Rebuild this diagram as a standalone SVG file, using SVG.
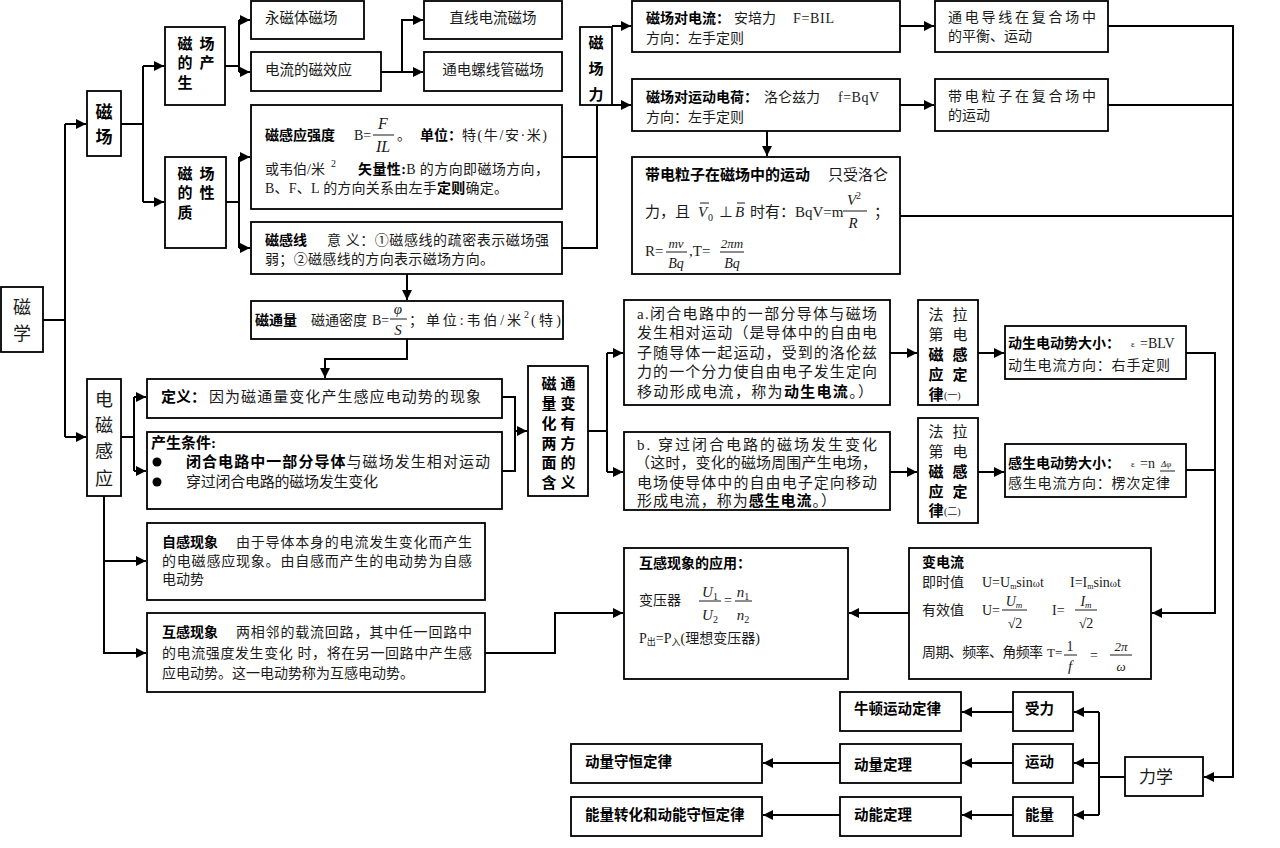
<svg xmlns="http://www.w3.org/2000/svg" width="1280" height="848" viewBox="0 0 1280 848">
<defs>
<marker id="ah" markerUnits="userSpaceOnUse" markerWidth="11" markerHeight="10" refX="10" refY="5" orient="auto">
<path d="M0,0 L10,5 L0,10 z" fill="#000"/>
</marker>
<style>
.bx{fill:#fff;stroke:#000;stroke-width:1.8}
.t{font-family:"Liberation Serif","Noto Sans CJK SC",serif;font-size:14px;fill:#1a1a1a}
.s15{font-size:15px}
.s18{font-size:18px}
.bd{font-weight:bold;fill:#000}
.m{font-family:"Liberation Serif",serif;font-style:italic;font-size:15px;fill:#1a1a1a}
.mc{text-anchor:middle}
.fl{stroke:#1a1a1a;stroke-width:1}
.cn path{fill:none;stroke:#000;stroke-width:2}
.cn path.a{marker-end:url(#ah)}
</style>
</defs>
<rect width="1280" height="848" fill="#fff"/>

<g class="cn" id="connectors">
<path d="M43,320 H65 M65,124 V437"/>
<path class="a" d="M65,124 H86"/>
<path class="a" d="M65,437 H86"/>
<path d="M121,124 H143 M143,66 V202"/>
<path class="a" d="M143,66 H164"/>
<path class="a" d="M143,202 H164"/>
<path d="M225,66 H239 M239,20 V72"/>
<path class="a" d="M239,20 H250"/>
<path class="a" d="M239,72 H250"/>
<path class="a" d="M381,72 H423"/>
<path class="a" d="M402,72 V20 H423"/>
<path d="M226,202 H239 M239,157 V248"/>
<path class="a" d="M239,157 H250"/>
<path class="a" d="M239,248 H250"/>
<path d="M562,157 H597 M562,248 H597 V105"/>
<path class="a" d="M612,26 H631"/>
<path class="a" d="M597,105 H631"/>
<path class="a" d="M900,26 H934"/>
<path class="a" d="M900,105 H934"/>
<path class="a" d="M767,131 V156"/>
<path class="a" d="M1108,26 H1233 V777 H1204"/>
<path d="M1108,105 H1233 M900,216 H1233"/>
<path class="a" d="M407,274 V300"/>
<path class="a" d="M407,339 V359 H325 V378"/>
<path d="M121,437 H134 M134,397 V471"/>
<path class="a" d="M134,397 H146"/>
<path class="a" d="M134,471 H146"/>
<path d="M502,397 H515 V471 H502"/>
<path class="a" d="M515,431 H527"/>
<path d="M588,431 H607 M607,353 V472"/>
<path class="a" d="M607,353 H623"/>
<path class="a" d="M607,472 H623"/>
<path class="a" d="M890,353 H917"/>
<path class="a" d="M978,353 H1004"/>
<path class="a" d="M890,472 H917"/>
<path class="a" d="M978,472 H1004"/>
<path class="a" d="M1186,353 H1215 V613 H1152"/>
<path d="M1186,470 H1215"/>
<path class="a" d="M909,613 H849"/>
<path class="a" d="M104,496 V653 H146"/>
<path class="a" d="M104,561 H146"/>
<path class="a" d="M485,653 H555 V613 H623"/>
<path d="M1125,777 H1099 M1099,712 V815"/>
<path class="a" d="M1099,712 H1074"/>
<path class="a" d="M1099,763 H1074"/>
<path class="a" d="M1099,815 H1074"/>
<path class="a" d="M1013,712 H962"/>
<path class="a" d="M1013,763 H962"/>
<path class="a" d="M840,763 H763"/>
<path class="a" d="M1013,815 H962"/>
<path class="a" d="M840,815 H763"/>
</g>

<g id="n-cixue"><rect class="bx" x="1" y="287" width="42" height="65"/>
<text class="t s18 mc" x="22" y="314">磁</text><text class="t s18 mc" x="22" y="340">学</text></g>

<g id="n-cichang"><rect class="bx" x="87" y="91" width="34" height="65"/>
<text class="t bd mc" style="font-size:17px" x="104" y="118">磁</text><text class="t bd mc" style="font-size:17px" x="104" y="143">场</text></g>

<g id="n-chansheng"><rect class="bx" x="165" y="27" width="60" height="78"/>
<text class="t s15 bd mc" x="185" y="49">磁</text><text class="t s15 bd mc" x="207" y="49">场</text>
<text class="t s15 bd mc" x="185" y="68">的</text><text class="t s15 bd mc" x="207" y="68">产</text>
<text class="t s15 bd mc" x="185" y="88">生</text></g>

<g id="n-xingzhi"><rect class="bx" x="165" y="157" width="61" height="91"/>
<text class="t s15 bd mc" x="185" y="179">磁</text><text class="t s15 bd mc" x="207" y="179">场</text>
<text class="t s15 bd mc" x="185" y="198">的</text><text class="t s15 bd mc" x="207" y="198">性</text>
<text class="t s15 bd mc" x="185" y="218">质</text></g>

<g id="n-yongci"><rect class="bx" x="251" y="1" width="113" height="38"/>
<text class="t" style="font-size:14.5px" x="265" y="23">永磁体磁场</text></g>
<g id="n-dianliu"><rect class="bx" x="251" y="52" width="130" height="39"/>
<text class="t" style="font-size:14.5px" x="265" y="75">电流的磁效应</text></g>
<g id="n-zhixian"><rect class="bx" x="424" y="1" width="138" height="38"/>
<text class="t mc" style="font-size:14.5px" x="493" y="23">直线电流磁场</text></g>
<g id="n-luoxian"><rect class="bx" x="424" y="52" width="138" height="39"/>
<text class="t mc" style="font-size:14.5px" x="493" y="75">通电螺线管磁场</text></g>

<g id="n-qiangdu"><rect class="bx" x="251" y="105" width="311" height="104"/>
<text class="t bd" x="265" y="140">磁感应强度</text>
<text class="t" x="354" y="140">B=</text>
<text class="m mc" style="font-size:16px" x="383" y="129">F</text>
<line class="fl" x1="373" y1="135" x2="394" y2="135"/>
<text class="m mc" style="font-size:16px" x="383" y="152">IL</text>
<text class="t" x="397" y="140">。</text>
<text class="t bd" x="420" y="140">单位：</text>
<text class="t" x="462" y="140" textLength="85" lengthAdjust="spacing">特(牛/安·米)</text>
<text class="t" x="265" y="174">或韦伯/米</text>
<text class="t" style="font-size:10px" x="331" y="167">2</text>
<text class="t" x="358" y="174" textLength="191" lengthAdjust="spacing"><tspan class="bd">矢量性:</tspan>B 的方向即磁场方向，</text>
<text class="t" x="265" y="193" textLength="243" lengthAdjust="spacing">B、F、L 的方向关系由左手<tspan class="bd">定则</tspan>确定。</text></g>

<g id="n-cigan"><rect class="bx" x="251" y="222" width="311" height="52"/>
<text class="t bd" x="265" y="245">磁感线</text>
<text class="t" x="327" y="245" textLength="222" lengthAdjust="spacing">意 义：①磁感线的疏密表示磁场强</text>
<text class="t" x="265" y="264" textLength="229" lengthAdjust="spacing">弱；②磁感线的方向表示磁场方向。</text></g>

<g id="n-citong"><rect class="bx" x="251" y="301" width="312" height="38"/>
<text class="t bd" x="255" y="325">磁通量</text>
<text class="t" x="311" y="325">磁通密度</text>
<text class="t" x="372" y="325">B=</text>
<text class="m mc" x="398" y="314">φ</text>
<line class="fl" x1="390" y1="319" x2="407" y2="319"/>
<text class="m mc" x="398" y="335">S</text>
<text class="t" x="409" y="325" textLength="112" lengthAdjust="spacing">；单位:韦伯/米</text>
<text class="t" style="font-size:10px" x="524" y="318">2</text>
<text class="t" x="531" y="325" textLength="30" lengthAdjust="spacing">(特)</text></g>

<g id="n-cichangli"><rect class="bx" x="580" y="27" width="32" height="78"/>
<text class="t s15 bd mc" x="596" y="48">磁</text><text class="t s15 bd mc" x="596" y="74">场</text><text class="t s15 bd mc" x="596" y="100">力</text></g>

<g id="n-anpeili"><rect class="bx" x="632" y="1" width="268" height="51"/>
<text class="t bd" x="646" y="23">磁场对电流：</text>
<text class="t" x="734" y="23">安培力</text>
<text class="t" x="793" y="23" textLength="41" lengthAdjust="spacing">F=BIL</text>
<text class="t" x="646" y="43">方向：左手定则</text></g>

<g id="n-luolunzi"><rect class="bx" x="632" y="79" width="268" height="52"/>
<text class="t bd" x="646" y="102">磁场对运动电荷：</text>
<text class="t" x="764" y="102">洛仑兹力</text>
<text class="t" x="838" y="102" textLength="41" lengthAdjust="spacing">f=BqV</text>
<text class="t" x="646" y="122">方向：左手定则</text></g>

<g id="n-fuhe1"><rect class="bx" x="935" y="1" width="173" height="51"/>
<text class="t" x="948" y="22" textLength="148" lengthAdjust="spacing">通电导线在复合场中</text>
<text class="t" x="948" y="41">的平衡、运动</text></g>

<g id="n-fuhe2"><rect class="bx" x="935" y="79" width="173" height="52"/>
<text class="t" x="948" y="101" textLength="148" lengthAdjust="spacing">带电粒子在复合场中</text>
<text class="t" x="948" y="120">的运动</text></g>

<g id="n-lizi"><rect class="bx" x="632" y="157" width="268" height="117"/>
<text class="t s15 bd" x="645" y="180">带电粒子在磁场中的运动</text>
<text class="t s15" x="828" y="180">只受洛仑</text>
<text class="t s15" x="645" y="217">力，且</text>
<text class="m" x="698" y="217">V</text>
<line class="fl" x1="700" y1="203" x2="709" y2="203"/>
<text class="t" style="font-size:10px" x="708" y="221">0</text>
<text class="t" x="719" y="217">⊥</text>
<text class="m" x="735" y="217">B</text>
<line class="fl" x1="737" y1="203" x2="745" y2="203"/>
<text class="t s15" x="750" y="217">时有：</text>
<text class="t s15" x="795" y="217">BqV=m</text>
<text class="m mc" x="854" y="205">V<tspan style="font-size:10px;font-style:normal" dy="-6">2</tspan></text>
<line class="fl" x1="843" y1="211" x2="867" y2="211"/>
<text class="m mc" x="853" y="228">R</text>
<text class="t s15" x="874" y="217">；</text>
<text class="t s15" x="645" y="256">R=</text>
<text class="m mc" style="font-size:13px" x="676" y="248">mv</text>
<line class="fl" x1="666" y1="252" x2="687" y2="252"/>
<text class="m mc" style="font-size:14px" x="676" y="268">Bq</text>
<text class="t s15" x="689" y="256">,T=</text>
<text class="m mc" style="font-size:13px" x="732" y="248">2πm</text>
<line class="fl" x1="720" y1="252" x2="744" y2="252"/>
<text class="m mc" style="font-size:14px" x="732" y="268">Bq</text></g>

<g id="n-dianci"><rect class="bx" x="87" y="379" width="34" height="117"/>
<text class="t s18 mc" x="104" y="406">电</text><text class="t s18 mc" x="104" y="432">磁</text>
<text class="t s18 mc" x="104" y="458">感</text><text class="t s18 mc" x="104" y="485">应</text></g>

<g id="n-dingyi"><rect class="bx" x="147" y="379" width="355" height="39"/>
<text class="t s15 bd" x="161" y="402">定义：</text>
<text class="t s15" x="209" y="402" textLength="272" lengthAdjust="spacing">因为磁通量变化产生感应电动势的现象</text></g>

<g id="n-tiaojian"><rect class="bx" x="147" y="432" width="355" height="77"/>
<text class="t s15 bd" x="151" y="448">产生条件:</text>
<circle cx="157" cy="462" r="4.5" fill="#000"/>
<circle cx="157" cy="482" r="4.5" fill="#000"/>
<text class="t s15" x="186" y="467" textLength="304" lengthAdjust="spacing"><tspan class="bd">闭合电路中一部分导体</tspan>与磁场发生相对运动</text>
<text class="t s15" x="186" y="487" textLength="192" lengthAdjust="spacing">穿过闭合电路的磁场发生变化</text></g>

<g id="n-hanyi"><rect class="bx" x="528" y="366" width="60" height="130"/>
<text class="t s15 bd mc" x="549" y="389">磁</text><text class="t s15 bd mc" x="568" y="389">通</text>
<text class="t s15 bd mc" x="549" y="409">量</text><text class="t s15 bd mc" x="568" y="409">变</text>
<text class="t s15 bd mc" x="549" y="429">化</text><text class="t s15 bd mc" x="568" y="429">有</text>
<text class="t s15 bd mc" x="549" y="449">两</text><text class="t s15 bd mc" x="568" y="449">方</text>
<text class="t s15 bd mc" x="549" y="468">面</text><text class="t s15 bd mc" x="568" y="468">的</text>
<text class="t s15 bd mc" x="549" y="488">含</text><text class="t s15 bd mc" x="568" y="488">义</text></g>

<g id="n-a"><rect class="bx" x="624" y="300" width="266" height="105"/>
<text class="t s15" x="637" y="319" textLength="240" lengthAdjust="spacing">a.闭合电路中的一部分导体与磁场</text>
<text class="t s15" x="637" y="338" textLength="240" lengthAdjust="spacing">发生相对运动（是导体中的自由电</text>
<text class="t s15" x="637" y="358" textLength="240" lengthAdjust="spacing">子随导体一起运动，受到的洛伦兹</text>
<text class="t s15" x="637" y="377" textLength="240" lengthAdjust="spacing">力的一个分力使自由电子发生定向</text>
<text class="t s15" x="637" y="397" textLength="236" lengthAdjust="spacing">移动形成电流，称为<tspan class="bd">动生电流</tspan>。）</text></g>

<g id="n-b"><rect class="bx" x="624" y="432" width="266" height="78"/>
<text class="t s15" x="637" y="450" textLength="240" lengthAdjust="spacing">b. 穿过闭合电路的磁场发生变化</text>
<text class="t s15" x="635" y="468" textLength="242" lengthAdjust="spacing">（这时，变化的磁场周围产生电场，</text>
<text class="t s15" x="637" y="488" textLength="240" lengthAdjust="spacing">电场使导体中的自由电子定向移动</text>
<text class="t s15" x="637" y="506" textLength="199" lengthAdjust="spacing">形成电流，称为<tspan class="bd">感生电流</tspan>。）</text></g>

<g id="n-faladi1"><rect class="bx" x="918" y="300" width="60" height="105"/>
<text class="t s15 mc" x="936" y="320">法</text><text class="t s15 mc" x="960" y="320">拉</text>
<text class="t s15 mc" x="936" y="340">第</text><text class="t s15 mc" x="960" y="340">电</text>
<text class="t s15 bd mc" x="936" y="360">磁</text><text class="t s15 bd mc" x="960" y="360">感</text>
<text class="t s15 bd mc" x="936" y="380">应</text><text class="t s15 bd mc" x="960" y="380">定</text>
<text class="t s15 bd mc" x="936" y="400">律</text><text class="t" style="font-size:10px" x="944" y="399">(一)</text></g>

<g id="n-faladi2"><rect class="bx" x="918" y="418" width="60" height="105"/>
<text class="t s15 mc" x="936" y="437">法</text><text class="t s15 mc" x="960" y="437">拉</text>
<text class="t s15 mc" x="936" y="457">第</text><text class="t s15 mc" x="960" y="457">电</text>
<text class="t s15 bd mc" x="936" y="477">磁</text><text class="t s15 bd mc" x="960" y="477">感</text>
<text class="t s15 bd mc" x="936" y="497">应</text><text class="t s15 bd mc" x="960" y="497">定</text>
<text class="t s15 bd mc" x="936" y="516">律</text><text class="t" style="font-size:10px" x="944" y="515">(二)</text></g>

<g id="n-dongsheng"><rect class="bx" x="1005" y="326" width="181" height="53"/>
<text class="t bd" x="1008" y="348">动生电动势大小：</text>
<text class="t" style="font-size:9px" x="1131" y="347">ε</text>
<text class="t" x="1140" y="348">=BLV</text>
<text class="t" x="1008" y="370" textLength="162" lengthAdjust="spacing">动生电流方向：右手定则</text></g>

<g id="n-gansheng"><rect class="bx" x="1005" y="444" width="181" height="53"/>
<text class="t bd" x="1008" y="468">感生电动势大小：</text>
<text class="t" style="font-size:9px" x="1131" y="467">ε</text>
<text class="t" x="1140" y="468">=n</text>
<text class="m" style="font-size:9px" x="1161" y="467">Δφ</text>
<line class="fl" x1="1160" y1="471" x2="1175" y2="471"/>
<text class="t" x="1008" y="488" textLength="162" lengthAdjust="spacing">感生电流方向：楞次定律</text></g>

<g id="n-zigan"><rect class="bx" x="147" y="523" width="338" height="77"/>
<text class="t bd" x="162" y="547">自感现象</text>
<text class="t" x="236" y="547" textLength="236" lengthAdjust="spacing">由于导体本身的电流发生变化而产生</text>
<text class="t" x="162" y="566" textLength="310" lengthAdjust="spacing">的电磁感应现象。由自感而产生的电动势为自感</text>
<text class="t" x="162" y="584">电动势</text></g>

<g id="n-hugan"><rect class="bx" x="147" y="613" width="338" height="79"/>
<text class="t bd" x="162" y="637">互感现象</text>
<text class="t" x="236" y="637" textLength="236" lengthAdjust="spacing">两相邻的载流回路，其中任一回路中</text>
<text class="t" x="162" y="658" textLength="310" lengthAdjust="spacing">的电流强度发生变化 时，将在另一回路中产生感</text>
<text class="t" x="162" y="678" textLength="252" lengthAdjust="spacing">应电动势。这一电动势称为互感电动势。</text></g>

<g id="n-yingyong"><rect class="bx" x="624" y="548" width="224" height="131"/>
<text class="t bd" x="639" y="568">互感现象的应用：</text>
<text class="t" x="639" y="605">变压器</text>
<text class="m mc" x="710" y="597">U<tspan style="font-size:10px;font-style:normal" dy="3">1</tspan></text>
<line class="fl" x1="699" y1="601" x2="721" y2="601"/>
<text class="m mc" x="710" y="620">U<tspan style="font-size:10px;font-style:normal" dy="3">2</tspan></text>
<text class="t" x="724" y="605">=</text>
<text class="m mc" x="743" y="597">n<tspan style="font-size:10px;font-style:normal" dy="3">1</tspan></text>
<line class="fl" x1="735" y1="601" x2="752" y2="601"/>
<text class="m mc" x="743" y="620">n<tspan style="font-size:10px;font-style:normal" dy="3">2</tspan></text>
<text class="t" x="639" y="643">P<tspan style="font-size:9px" dy="2">出</tspan><tspan dy="-2">=P</tspan><tspan style="font-size:9px" dy="2">入</tspan><tspan dy="-2">(理想变压器)</tspan></text></g>

<g id="n-biandianliu"><rect class="bx" x="909" y="548" width="242" height="131"/>
<text class="t bd" x="922" y="567">变电流</text>
<text class="t" x="922" y="587">即时值</text>
<text class="t" x="982" y="587">U=U<tspan style="font-size:8px" dy="2">m</tspan><tspan dy="-2">sin</tspan><tspan style="font-size:11px">ω</tspan>t</text>
<text class="t" x="1070" y="587">I=I<tspan style="font-size:8px" dy="2">m</tspan><tspan dy="-2">sin</tspan><tspan style="font-size:11px">ω</tspan>t</text>
<text class="t" x="922" y="615">有效值</text>
<text class="t" x="982" y="615">U=</text>
<text class="m mc" style="font-size:14px" x="1014" y="606">U<tspan style="font-size:9px" dy="2">m</tspan></text>
<line class="fl" x1="1002" y1="610" x2="1027" y2="610"/>
<text class="t mc" x="1015" y="628">√2</text>
<text class="t" x="1052" y="615">I=</text>
<text class="m mc" style="font-size:14px" x="1086" y="606">I<tspan style="font-size:9px" dy="2">m</tspan></text>
<line class="fl" x1="1075" y1="610" x2="1097" y2="610"/>
<text class="t mc" x="1086" y="628">√2</text>
<text class="t" x="922" y="657" textLength="121" lengthAdjust="spacing">周期、频率、角频率</text>
<text class="t" style="font-size:13px" x="1047" y="657">T=</text>
<text class="t mc" x="1070" y="651">1</text>
<line class="fl" x1="1064" y1="655" x2="1077" y2="655"/>
<text class="m mc" x="1070" y="671">f</text>
<text class="t" x="1090" y="660">=</text>
<text class="m mc" style="font-size:13px" x="1121" y="651">2π</text>
<line class="fl" x1="1110" y1="655" x2="1132" y2="655"/>
<text class="m mc" style="font-size:13px" x="1121" y="671">ω</text></g>

<g id="n-niudun"><rect class="bx" x="840" y="692" width="121" height="39"/>
<text class="t bd" style="font-size:14.5px" x="854" y="714">牛顿运动定律</text></g>
<g id="n-shouli"><rect class="bx" x="1013" y="692" width="60" height="39"/>
<text class="t bd" style="font-size:14.5px" x="1025" y="714">受力</text></g>
<g id="n-dongliangshouheng"><rect class="bx" x="571" y="744" width="191" height="39"/>
<text class="t bd" style="font-size:14.5px" x="585" y="767">动量守恒定律</text></g>
<g id="n-dongliangdingli"><rect class="bx" x="840" y="744" width="121" height="39"/>
<text class="t bd" style="font-size:14.5px" x="854" y="770">动量定理</text></g>
<g id="n-yundong"><rect class="bx" x="1013" y="744" width="60" height="39"/>
<text class="t bd" style="font-size:14.5px" x="1025" y="767">运动</text></g>
<g id="n-nengliangzhuanhua"><rect class="bx" x="571" y="797" width="191" height="39"/>
<text class="t bd" style="font-size:14.5px" x="585" y="820">能量转化和动能守恒定律</text></g>
<g id="n-dongnengdingli"><rect class="bx" x="840" y="797" width="121" height="39"/>
<text class="t bd" style="font-size:14.5px" x="854" y="820">动能定理</text></g>
<g id="n-nengliang"><rect class="bx" x="1013" y="797" width="60" height="39"/>
<text class="t bd" style="font-size:14.5px" x="1025" y="820">能量</text></g>
<g id="n-lixue"><rect class="bx" x="1125" y="757" width="78" height="39"/>
<text class="t" style="font-size:17px" x="1139" y="783">力学</text></g>
</svg>
